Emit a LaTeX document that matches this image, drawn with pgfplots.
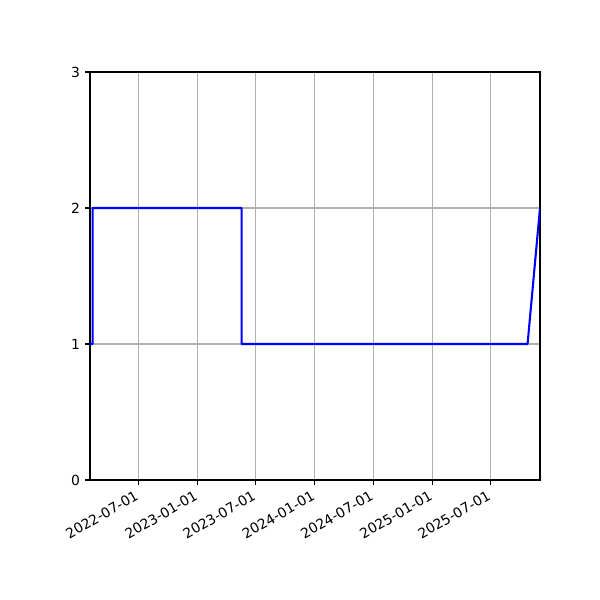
\documentclass[border=0pt]{standalone}
\usepackage{fontspec}
\setmainfont{DejaVu Sans}
\usepackage{pgfplots}
\pgfplotsset{compat=1.18}
\definecolor{gridgray}{HTML}{B0B0B0}
\begin{document}
\begin{tikzpicture}
\path[use as bounding box] (-64.8pt,-86.4pt) rectangle (367.2pt,345.6pt);
\begin{axis}[
  at={(0,0)}, anchor=south west,
  scale only axis,
  width=324pt, height=293.76pt,
  xmin=-151, xmax=1250, ymin=0, ymax=3,
  xtick={0,184,365,549,731,915,1096},
  xticklabels={2022-07-01,2023-01-01,2023-07-01,2024-01-01,2024-07-01,2025-01-01,2025-07-01},
  ytick={0,1,2,3},
  grid=major,
  grid style={color=gridgray, line width=0.8pt},
  axis line style={line width=0.8pt},
  tick align=outside,
  xtick pos=left, ytick pos=left,
  major tick length=3.5pt,
  tick style={line width=0.8pt, black},
  /pgf/number format/assume math mode=true,
  ticklabel style={font=\fontsize{10}{12}\selectfont},
  xticklabel style={anchor=north east, inner sep=0pt, xshift=-3pt, yshift=-3.5pt, rotate=30},
  yticklabel style={inner sep=0pt, xshift=-3.5pt},
]
\addplot[color=blue, line width=1.5pt, line join=round] coordinates {
(-151,1) (-143,1) (-143,2) (321,2) (321,1) (1211.3,1) (1250,2)
};
\end{axis}
\end{tikzpicture}
\end{document}
